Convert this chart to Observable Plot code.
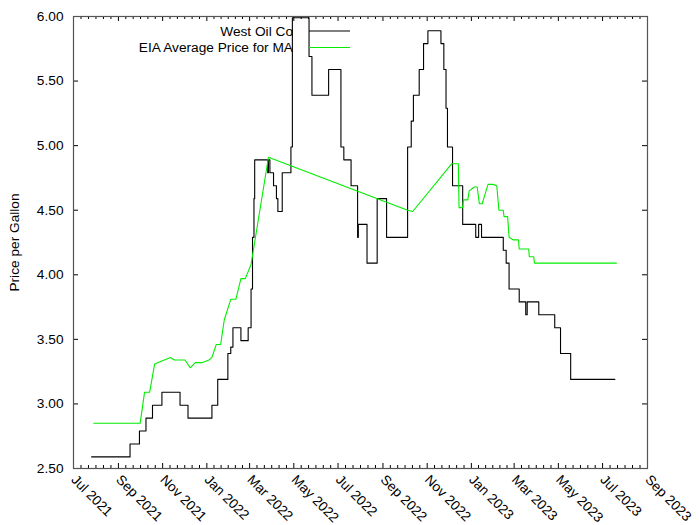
<!DOCTYPE html>
<html><head><meta charset="utf-8">
<script src="https://cdn.jsdelivr.net/npm/d3@7"></script>
<script src="https://cdn.jsdelivr.net/npm/@observablehq/plot@0.6"></script>
<style>
body{margin:0;background:#fff;}
#chart{width:700px;height:525px;}
</style></head><body><div id="chart"></div>
<script>
const seriesNames = ["West Oil Co", "EIA Average Price for MA"];
const seriesColors = ["#000000", "#00ee00"];
const yAxisLabel = "Price per Gallon";

const westDates = ["2021-07-26","2021-09-17","2021-09-30","2021-10-09","2021-10-18","2021-10-31","2021-11-25","2021-12-06",
  "2022-01-08","2022-01-16","2022-01-30","2022-02-03","2022-02-06","2022-02-17","2022-02-27","2022-03-03","2022-03-05",
  "2022-03-07","2022-03-08","2022-03-26","2022-03-27","2022-03-29","2022-04-03","2022-04-07","2022-04-09","2022-04-15",
  "2022-04-27","2022-04-29","2022-05-22","2022-05-26","2022-06-18","2022-07-05","2022-07-09","2022-07-19","2022-07-28",
  "2022-07-29","2022-08-10","2022-08-24","2022-09-06","2022-10-05","2022-10-10","2022-10-13","2022-10-21","2022-10-27",
  "2022-11-02","2022-11-20","2022-11-24","2022-11-27","2022-11-29","2022-12-06","2022-12-20","2023-01-07","2023-01-11",
  "2023-01-15","2023-02-14","2023-02-18","2023-02-22","2023-03-08","2023-03-17","2023-03-19","2023-04-04","2023-04-26",
  "2023-05-04","2023-05-18","2023-07-18"];
const westPrices = [2.59,2.69,2.79,2.89,2.99,3.09,2.99,2.89,
  2.99,3.19,3.39,3.44,3.59,3.49,3.59,3.89,4.29,
  4.59,4.89,4.79,4.89,4.79,4.69,4.59,4.49,4.79,
  4.99,5.99,5.69,5.39,5.59,4.99,4.89,4.69,4.29,
  4.39,4.09,4.59,4.29,4.99,5.19,5.39,5.59,5.79,
  5.89,5.79,5.59,5.29,4.99,4.69,4.39,4.29,4.39,
  4.29,4.19,4.09,3.89,3.79,3.69,3.79,3.69,3.59,
  3.39,3.19,3.19];

const eiaDates = ["2021-07-29","2021-10-01","2021-10-07","2021-10-14","2021-10-21","2021-10-30","2021-11-12","2021-11-17",
  "2021-12-02","2021-12-09","2021-12-16","2021-12-26","2022-01-04","2022-01-08","2022-01-14","2022-01-20","2022-01-25",
  "2022-02-03","2022-02-10","2022-02-17","2022-02-23","2022-03-03","2022-03-27","2022-10-05","2022-10-12","2022-12-05",
  "2022-12-14","2022-12-15","2022-12-20","2022-12-21","2022-12-27","2022-12-29","2023-01-05","2023-01-09","2023-01-12",
  "2023-01-16","2023-01-18","2023-01-24","2023-01-31","2023-02-05","2023-02-08","2023-02-14","2023-02-15","2023-02-20",
  "2023-02-22","2023-02-28","2023-03-07","2023-03-08","2023-03-21","2023-03-22","2023-03-28","2023-03-29","2023-07-20"];
const eiaPrices = [2.85,2.85,3.09,3.09,3.31,3.33,3.36,3.34,
  3.34,3.28,3.32,3.32,3.34,3.36,3.46,3.46,3.65,
  3.81,3.81,3.97,3.97,4.08,4.91,4.50,4.49,4.86,
  4.86,4.52,4.52,4.58,4.58,4.65,4.68,4.68,4.55,
  4.55,4.59,4.70,4.70,4.69,4.50,4.50,4.45,4.45,
  4.29,4.27,4.27,4.20,4.20,4.14,4.14,4.09,4.09];

const xTickMonths = ["2021-07-01","2021-09-01","2021-11-01","2022-01-01","2022-03-01","2022-05-01","2022-07-01",
  "2022-09-01","2022-11-01","2023-01-01","2023-03-01","2023-05-01","2023-07-01","2023-09-01"];
const yTicks = [2.5, 3.0, 3.5, 4.0, 4.5, 5.0, 5.5, 6.0];

const parse = d3.utcParse("%Y-%m-%d");
const west = westDates.map((d, i) => ({date: parse(d), price: westPrices[i]}));
const eia = eiaDates.map((d, i) => ({date: parse(d), price: eiaPrices[i]}));
const xMajor = xTickMonths.map(parse);
const xMinor = [];
for (let i = 0; i < xMajor.length - 1; i++) {
  const a = +xMajor[i], b = +xMajor[i + 1];
  for (let k = 1; k < 6; k++) xMinor.push(new Date(a + (b - a) * k / 6));
}

const W = 700, H = 525, mL = 73, mR = 53, mT = 16, mB = 57;
const innerW = W - mL - mR, innerH = H - mT - mB;
const FONT = "13.7px";

const svg = Plot.plot({
  width: W, height: H,
  marginLeft: mL, marginRight: mR, marginTop: mT, marginBottom: mB,
  style: {fontFamily: "'Liberation Sans', Arial, sans-serif", fontSize: FONT, color: "#000", background: "#fff"},
  x: {type: "utc", domain: [xMajor[0], xMajor[xMajor.length - 1]]},
  y: {domain: [2.5, 6.0]},
  marks: [
    Plot.tickX(xMinor, {x: d => d, insetTop: innerH - 3, stroke: "#000"}),
    Plot.tickX(xMinor, {x: d => d, insetBottom: innerH - 3, stroke: "#000"}),
    Plot.tickX(xMajor, {x: d => d, insetTop: innerH - 5, stroke: "#000"}),
    Plot.tickX(xMajor, {x: d => d, insetBottom: innerH - 5, stroke: "#000"}),
    Plot.tickY(yTicks, {y: d => d, insetRight: innerW - 5, stroke: "#000"}),
    Plot.tickY(yTicks, {y: d => d, insetLeft: innerW - 5, stroke: "#000"}),
    Plot.axisY(yTicks, {tickFormat: d3.format(".2f"), tickSize: 0, tickPadding: 10, label: null}),
    Plot.axisX(xMajor, {tickFormat: d3.utcFormat("%b %Y"), tickRotate: 45, tickSize: 0, tickPadding: 9, label: null}),
    Plot.text([yAxisLabel], {frameAnchor: "left", dx: -59, rotate: -90, textAnchor: "middle", text: d => d}),
    Plot.line(west, {x: "date", y: "price", curve: "step-after", stroke: seriesColors[0], strokeWidth: 1.1}),
    Plot.line(eia, {x: "date", y: "price", curve: "linear", stroke: seriesColors[1], strokeWidth: 1.1}),
    Plot.frame({stroke: "#555", strokeWidth: 1.2})
  ]
});

// legend inside the plot area, top
const lg = d3.select(svg).append("g").attr("font-family", "'Liberation Sans', Arial, sans-serif").attr("font-size", FONT);
seriesNames.forEach((name, i) => {
  const y = mT + 15 + i * 16.5;
  lg.append("text").attr("x", mL + 220).attr("y", y).attr("dy", "0.35em").attr("text-anchor", "end").attr("fill", "#000").text(name);
  lg.append("line").attr("x1", mL + 236).attr("x2", mL + 277).attr("y1", y).attr("y2", y)
    .attr("stroke", seriesColors[i]).attr("stroke-width", 1.1);
});

document.getElementById("chart").appendChild(svg);
</script>
</body></html>
